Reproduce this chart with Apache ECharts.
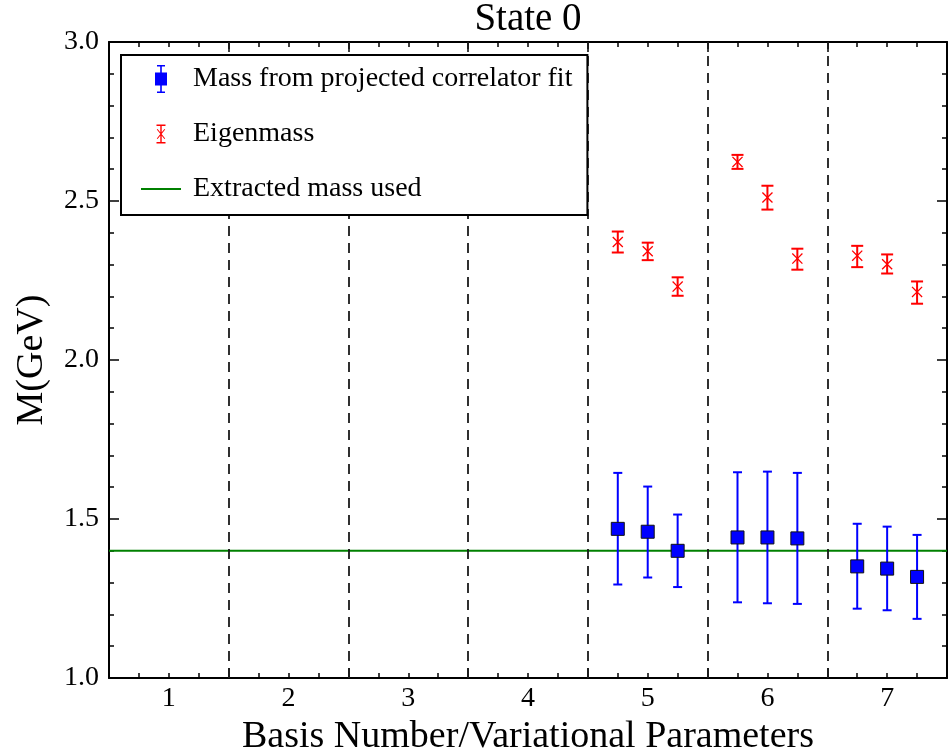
<!DOCTYPE html>
<html>
<head>
<meta charset="utf-8">
<script src="https://cdn.jsdelivr.net/npm/echarts@6/dist/echarts.min.js"></script>
<style>
  html, body { margin: 0; padding: 0; background: #fff; }
  #chart { width: 948px; height: 755px; }
</style>
</head>
<body>
<div id="chart"></div>
<script>
// basis positions of the points (three per basis number)
const xPos = [4.75, 5.0, 5.25, 5.75, 6.0, 6.25, 6.75, 7.0, 7.25];
// mass from projected correlator fit
const projMass = [1.469, 1.460, 1.400, 1.442, 1.442, 1.439, 1.351, 1.344, 1.318];
const projLow = [1.294, 1.316, 1.286, 1.238, 1.235, 1.233, 1.218, 1.213, 1.186];
const projHigh = [1.645, 1.602, 1.514, 1.647, 1.649, 1.645, 1.485, 1.476, 1.450];
// eigenmass
const eigMass = [2.371, 2.342, 2.231, 2.623, 2.511, 2.319, 2.328, 2.301, 2.214];
const eigLow = [2.338, 2.314, 2.202, 2.601, 2.473, 2.284, 2.292, 2.272, 2.177];
const eigHigh = [2.404, 2.369, 2.260, 2.645, 2.548, 2.350, 2.359, 2.332, 2.247];
// extracted mass used
const extractedMass = 1.40;
// axes
const xLabels = [1, 2, 3, 4, 5, 6, 7];
const dividers = [1.5, 2.5, 3.5, 4.5, 5.5, 6.5];
const xRange = [0.5, 7.5];
const yRange = [1.0, 3.0];

const FONT = "'Liberation Serif', 'DejaVu Serif', serif";
const NAMES = ['Mass from projected correlator fit', 'Eigenmass', 'Extracted mass used'];

const chart = echarts.init(document.getElementById('chart'));

const errorBars = (color, cap) => (params, api) => {
  const x = api.value(0);
  const top = api.coord([x, api.value(2)]);
  const bot = api.coord([x, api.value(1)]);
  const style = { stroke: color, lineWidth: 2 };
  return {
    type: 'group',
    children: [
      { type: 'line', shape: { x1: top[0], y1: top[1], x2: bot[0], y2: bot[1] }, style },
      { type: 'line', shape: { x1: top[0] - cap, y1: top[1], x2: top[0] + cap, y2: top[1] }, style },
      { type: 'line', shape: { x1: bot[0] - cap, y1: bot[1], x2: bot[0] + cap, y2: bot[1] }, style }
    ]
  };
};

const xCommon = { type: 'value', min: xRange[0], max: xRange[1], splitLine: { show: false } };
const tickStyle = { color: '#000', width: 1.5 };

chart.setOption({
  animation: false,
  graphic: [
    {
      type: 'text', x: 528, y: 0, z: 100,
      style: { text: 'State 0', font: '39px ' + FONT, fill: '#000', align: 'center', verticalAlign: 'top' }
    }
  ],
  grid: { left: 109, right: 1, top: 42, bottom: 77, outerBoundsMode: 'none', containLabel: false },
  legend: {
    orient: 'vertical',
    left: 121,
    top: 55,
    z: 10,
    backgroundColor: '#fff',
    borderColor: '#000',
    borderWidth: 2,
    borderRadius: 0,
    padding: [10, 15, 12, 20],
    itemWidth: 40,
    itemHeight: 28,
    itemGap: 27,
    textStyle: { fontFamily: FONT, fontSize: 28, color: '#000', padding: [0, 0, 0, 7] },
    data: [
      {
        name: NAMES[0],
        icon: 'path://M2,0h8v1.6h-8Z M5.2,0h1.6v28h-1.6Z M2,26.4h8v1.6h-8Z M0,7.5h12v13h-12Z',
        itemStyle: { borderWidth: 0 }
      },
      {
        name: NAMES[1],
        icon: 'path://M6,0h0.01v0.01h-0.01Z M6,27.99h0.01v0.01h-0.01Z M1.5,4.5h9v1.5h-9Z M5.3,4.5h1.4v19h-1.4Z M1.5,22h9v1.5h-9Z M1.8,9.6L2.6,9L10.2,18.4L9.4,19Z M9.4,9L10.2,9.6L2.6,19L1.8,18.4Z'
      },
      { name: NAMES[2], icon: 'path://M0,0h40v2h-40Z' }
    ]
  },
  xAxis: [
    {
      ...xCommon,
      position: 'bottom',
      interval: 0.25,
      name: 'Basis Number/Variational Parameters',
      nameLocation: 'middle',
      nameGap: 37,
      nameTextStyle: { fontFamily: FONT, fontSize: 38, color: '#000' },
      axisLine: { show: true, lineStyle: { color: '#000', width: 2 } },
      axisTick: { show: true, inside: true, length: 5, lineStyle: tickStyle },
      axisLabel: {
        customValues: xLabels,
        formatter: v => String(v),
        fontFamily: FONT, fontSize: 28, color: '#000', margin: 7
      }
    },
    {
      ...xCommon,
      position: 'bottom',
      axisLine: { show: false },
      axisTick: { show: true, inside: true, length: 10, customValues: dividers, lineStyle: tickStyle },
      axisLabel: { show: false }
    },
    {
      ...xCommon,
      position: 'top',
      interval: 0.25,
      axisLine: { show: true, lineStyle: { color: '#000', width: 2 } },
      axisTick: { show: true, inside: true, length: 5, lineStyle: tickStyle },
      axisLabel: { show: false }
    },
    {
      ...xCommon,
      position: 'top',
      axisLine: { show: false },
      axisTick: { show: true, inside: true, length: 10, customValues: dividers, lineStyle: tickStyle },
      axisLabel: { show: false }
    }
  ],
  yAxis: [
    {
      type: 'value',
      min: yRange[0], max: yRange[1], interval: 0.5,
      position: 'left',
      name: 'M(GeV)',
      nameLocation: 'middle',
      nameGap: 58,
      nameRotate: 90,
      nameTextStyle: { fontFamily: FONT, fontSize: 38, color: '#000' },
      axisLine: { show: true, lineStyle: { color: '#000', width: 2 } },
      axisTick: { show: true, inside: true, length: 10, lineStyle: tickStyle },
      minorTick: { show: true, splitNumber: 5, length: 5, lineStyle: tickStyle },
      splitLine: { show: false },
      axisLabel: { formatter: v => v.toFixed(1), fontFamily: FONT, fontSize: 28, color: '#000', margin: 10 }
    },
    {
      type: 'value',
      min: yRange[0], max: yRange[1], interval: 0.5,
      position: 'right',
      axisLine: { show: true, lineStyle: { color: '#000', width: 2 } },
      axisTick: { show: true, inside: true, length: 10, lineStyle: tickStyle },
      minorTick: { show: true, splitNumber: 5, length: 5, lineStyle: tickStyle },
      splitLine: { show: false },
      axisLabel: { show: false }
    }
  ],
  series: [
    {
      name: NAMES[2],
      type: 'line',
      data: [[xRange[0], extractedMass], [xRange[1], extractedMass]],
      showSymbol: false,
      symbol: 'none',
      color: '#008000',
      lineStyle: { color: '#008000', width: 2 },
      z: 1,
      markLine: {
        silent: true,
        symbol: ['none', 'none'],
        label: { show: false },
        lineStyle: { color: '#1a1a1a', width: 1.8, type: [10, 7] },
        emphasis: { disabled: true },
        data: dividers.map(v => ({ xAxis: v }))
      }
    },
    {
      name: 'projErr',
      type: 'custom',
      renderItem: errorBars('#0000ff', 4.5),
      data: xPos.map((x, i) => [x, projLow[i], projHigh[i]]),
      z: 3
    },
    {
      name: NAMES[0],
      type: 'scatter',
      symbol: 'rect',
      symbolSize: 13,
      color: '#0000ff',
      itemStyle: { color: '#0000ff', borderColor: '#111', borderWidth: 1, opacity: 1 },
      data: xPos.map((x, i) => [x, projMass[i]]),
      z: 4
    },
    {
      name: 'eigErr',
      type: 'custom',
      renderItem: errorBars('#ff0000', 6),
      data: xPos.map((x, i) => [x, eigLow[i], eigHigh[i]]),
      z: 3
    },
    {
      name: NAMES[1],
      type: 'scatter',
      symbol: 'path://M0,1L1,0L6,5L11,0L12,1L7,6L12,11L11,12L6,7L1,12L0,11L5,6Z',
      symbolSize: 11,
      color: '#ff0000',
      itemStyle: { color: '#ff0000', opacity: 1 },
      data: xPos.map((x, i) => [x, eigMass[i]]),
      z: 4
    }
  ]
});

window.addEventListener('resize', () => chart.resize());
</script>
</body>
</html>
